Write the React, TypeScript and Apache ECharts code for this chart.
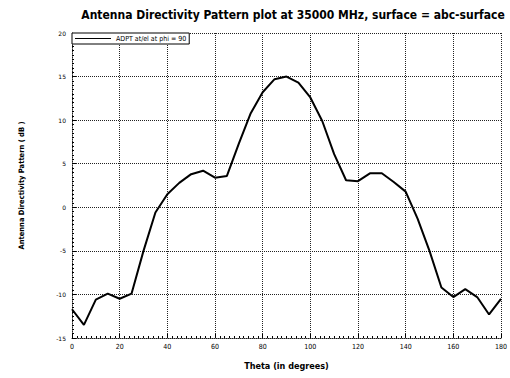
import React, { useEffect, useRef } from "react";
import * as echarts from "echarts";

const thetaDeg: number[] = [0, 5, 10, 15, 20, 25, 30, 35, 40, 45, 50, 55, 60, 65, 70, 75, 80, 85, 90, 95, 100, 105, 110, 115, 120, 125, 130, 135, 140, 145, 150, 155, 160, 165, 170, 175, 180];
const directivityDb: number[] = [-11.7, -13.5, -10.6, -9.9, -10.5, -9.9, -5.0, -0.6, 1.5, 2.8, 3.8, 4.2, 3.4, 3.6, 7.3, 10.8, 13.2, 14.7, 15.0, 14.3, 12.6, 9.9, 6.1, 3.1, 3.0, 3.9, 3.9, 2.9, 1.8, -1.3, -5.0, -9.2, -10.3, -9.4, -10.3, -12.3, -10.5];
const seriesName = "ADPT at/el at phi = 90";
const titleText = "Antenna Directivity Pattern plot at 35000 MHz, surface = abc-surface";
const xAxisTitle = "Theta (in degrees)";
const yAxisTitle = "Antenna Directivity Pattern ( dB )";

export default function App() {
  const ref = useRef<HTMLDivElement>(null);
  useEffect(() => {
    if (!ref.current) return;
    const chart = echarts.init(ref.current, null, { renderer: "svg" });
    const font = "DejaVu Sans";
    const cond = "DejaVu Sans Condensed";
    const dotted = { color: "#222", type: [1, 1], width: 1 };
    chart.setOption({
      animation: false,
      backgroundColor: "#fff",
      title: {
        text: titleText,
        left: 288,
        textAlign: "center",
        top: 4,
        textStyle: { fontFamily: cond, fontSize: 12, fontWeight: "bold", color: "#000" },
      },
      legend: {
        show: true,
        left: 72,
        top: 33,
        orient: "vertical",
        padding: [2, 3, 2, 3],
        backgroundColor: "#fff",
        borderColor: "#000",
        borderWidth: 1,
        itemWidth: 36,
        itemHeight: 1,
        itemGap: 0,
        textStyle: { fontFamily: cond, fontSize: 7, color: "#000" },
        data: [{ name: seriesName, icon: "rect", itemStyle: { color: "#000" } }],
      },
      grid: { left: 72, right: 5, top: 33, bottom: 40, show: false },
      xAxis: {
        type: "value",
        min: 0,
        max: 180,
        interval: 20,
        name: xAxisTitle,
        nameLocation: "middle",
        nameGap: 23,
        nameTextStyle: { fontFamily: cond, fontSize: 9, fontWeight: "bold", color: "#000" },
        axisLine: { show: true, onZero: false, lineStyle: dotted },
        axisTick: { show: true, inside: true, length: 4, lineStyle: { color: "#000" } },
        minorTick: { show: true, splitNumber: 10, length: 2, lineStyle: { color: "#000" } },
        axisLabel: { fontFamily: cond, fontSize: 7, color: "#000", margin: 5 },
        splitLine: { show: true, lineStyle: dotted },
      },
      yAxis: {
        type: "value",
        min: -15,
        max: 20,
        interval: 5,
        name: yAxisTitle,
        nameLocation: "middle",
        nameRotate: 90,
        nameGap: 47,
        nameTextStyle: { fontFamily: cond, fontSize: 7.5, fontWeight: "bold", color: "#000" },
        axisLine: { show: true, onZero: false, lineStyle: dotted },
        axisTick: { show: true, inside: true, length: 4, lineStyle: { color: "#000" } },
        minorTick: { show: true, splitNumber: 10, length: 2, lineStyle: { color: "#000" } },
        axisLabel: { fontFamily: font, fontSize: 6, color: "#000", margin: 6 },
        splitLine: { show: true, lineStyle: dotted },
      },
      series: [
        {
          name: seriesName,
          type: "line",
          data: thetaDeg.map((t, i) => [t, directivityDb[i]]),
          showSymbol: false,
          symbol: "none",
          lineStyle: { color: "#000", width: 2 },
          itemStyle: { color: "#000" },
        },
      ],
    });
    return () => chart.dispose();
  }, []);
  return <div ref={ref} style={{ width: 510, height: 378, position: "absolute", left: 0, top: 0 }} />;
}
